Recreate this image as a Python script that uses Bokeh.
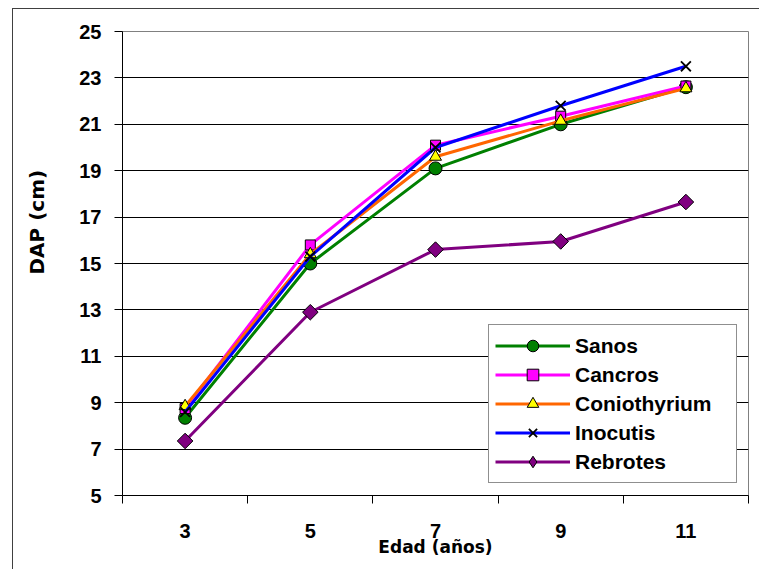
from bokeh.plotting import figure
from bokeh.models import FixedTicker, Legend, LegendItem, Range1d, Title
from bokeh.embed import file_html
from bokeh.resources import INLINE
import math

ages = [3, 5, 7, 9, 11]
sanos = [8.35, 15.0, 19.1, 21.0, 22.6]
cancros = [8.75, 15.8, 20.1, 21.35, 22.65]
coniothyrium = [8.85, 15.4, 19.6, 21.15, 22.55]
inocutis = [8.6, 15.3, 20.0, 21.8, 23.5]
rebrotes = [7.35, 12.9, 15.6, 15.95, 17.65]

y_ticks = [5, 7, 9, 11, 13, 15, 17, 19, 21, 23, 25]
x_bounds = [2, 4, 6, 8, 10, 12]

FONT = "Liberation Sans"
TFONT = "DejaVu Sans"

p = figure(width=747, height=561, x_range=Range1d(2, 12), y_range=Range1d(5, 25),
           output_backend="svg", toolbar_location=None,
           min_border_left=109, min_border_right=12, min_border_top=22, min_border_bottom=75,
           margin=(8, 0, 0, 12),
           styles={"border-left": "1px solid #404040", "border-top": "1px solid #404040"})

p.outline_line_color = "#808080"
p.outline_line_width = 1
p.background_fill_color = "white"
p.border_fill_color = "white"

p.xgrid.grid_line_color = None
p.ygrid.ticker = FixedTicker(ticks=y_ticks)
p.ygrid.grid_line_color = "#000000"
p.ygrid.grid_line_width = 1

# x axis
xa = p.xaxis[0]
xa.ticker = FixedTicker(ticks=ages, minor_ticks=x_bounds)
xa.major_tick_line_color = None
xa.major_tick_out = 0
xa.major_tick_in = 0
xa.minor_tick_line_color = "black"
xa.minor_tick_out = 8
xa.minor_tick_in = 0
xa.axis_line_color = "black"
xa.major_label_standoff = 20
xa.major_label_text_font = FONT
xa.major_label_text_font_style = "bold"
xa.major_label_text_font_size = "20px"
xa.major_label_text_color = "black"
xa.axis_label = "Edad (años)"
xa.axis_label_text_font = TFONT
xa.axis_label_text_font_style = "bold"
xa.axis_label_text_font_size = "17px"
xa.axis_label_text_color = "black"
xa.axis_label_standoff = -4

ya = p.yaxis[0]
ya.ticker = FixedTicker(ticks=y_ticks)
ya.major_tick_out = 8
ya.major_tick_in = 0
ya.minor_tick_line_color = None
ya.major_tick_line_color = "black"
ya.axis_line_color = "black"
ya.major_label_standoff = 13
ya.major_label_text_font = FONT
ya.major_label_text_font_style = "bold"
ya.major_label_text_font_size = "20px"
ya.major_label_text_color = "black"

series = [
    ("Sanos", sanos, "#008000", "circle", "#008000", 13, 0),
    ("Cancros", cancros, "#FF00FF", "square", "#FF00FF", 10, 0),
    ("Coniothyrium", coniothyrium, "#FF6600", "triangle", "#FFFF00", 12, 0),
    ("Inocutis", inocutis, "#0000FF", "x", "black", 14, 0),
    ("Rebrotes", rebrotes, "#800080", "square", "#800080", 11, math.pi / 4),
]

items = []
for name, vals, lc, marker, fc, size, ang in series:
    ln = p.line(ages, vals, line_color=lc, line_width=3)
    if marker == "x":
        sc = p.scatter(ages, vals, marker="x", size=size, line_color="black", line_width=1.8)
        rs = [ln, sc]
    elif ang:
        # diamond symbol (used by the legend), covered by the rotated square in the plot
        dm = p.scatter(ages, vals, marker="diamond", size=13, fill_color=fc,
                       line_color="black", line_width=1)
        p.scatter(ages, vals, marker=marker, size=size, fill_color=fc,
                  line_color="black", line_width=1, angle=ang)
        rs = [ln, dm]
    else:
        sc = p.scatter(ages, vals, marker=marker, size=size, fill_color=fc,
                       line_color="black", line_width=1)
        rs = [ln, sc]
    items.append(LegendItem(label=name, renderers=rs))

legend = Legend(items=items, location=(366, 12), orientation="vertical",
                padding=6, spacing=0, margin=0,
                glyph_width=75, glyph_height=29, label_height=29, label_width=155,
                label_standoff=5,
                label_text_font=FONT, label_text_font_style="bold",
                label_text_font_size="21px", label_text_color="black",
                border_line_color="#202020", border_line_width=1,
                background_fill_color="white", background_fill_alpha=1)
p.add_layout(legend, "center")

spacer = Title(text=" ", text_font_size="10px", text_color="white")
p.add_layout(spacer, "left")
ytitle = Title(text="DAP (cm)", align="left", offset=221,
               text_font=TFONT, text_font_style="bold", text_font_size="20px",
               text_color="black")
p.add_layout(ytitle, "left")

open("out.html", "w").write(file_html(p, INLINE))
